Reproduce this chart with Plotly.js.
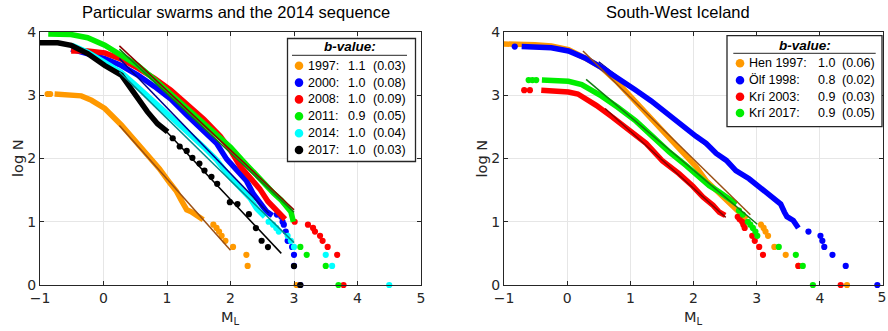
<!DOCTYPE html>
<html>
<head>
<meta charset="utf-8">
<script src="https://cdn.plot.ly/plotly-3.0.1.min.js"></script>
<style>
  html, body { margin: 0; padding: 0; background: #ffffff; overflow: hidden; }
  #wrap { position: relative; width: 888px; height: 331px; }
  #chart { width: 888px; height: 331px; }
  /* end label of the right magnitude axis, which sits on the page edge */
  #edge-tick { position: absolute; left: 876px; top: 288px; width: 12px; text-align: center; z-index: 10;
               font: 14px 'DejaVu Sans', sans-serif; color: #262626; line-height: 18px; }
</style>
</head>
<body>
<div id="wrap">
<div id="chart"></div>
<div id="edge-tick"></div>
</div>
<script>
// ---------- Left panel: particular swarms and the 2014 sequence ----------
// Frequency–magnitude distributions (log10 of cumulative count vs. local magnitude).
// "curve" = densely sampled part, "dots" = isolated points, "fit" = Gutenberg–Richter fit segment.
const s1997CurveM = [-0.77, -0.51, -0.35, -0.19, 0.02, 0.28, 0.54, 0.77, 0.88, 1.04, 1.15, 1.23, 1.31, 1.38, 1.46, 1.57];
const s1997CurveN = [3.02, 3.01, 2.99, 2.92, 2.79, 2.53, 2.24, 1.98, 1.84, 1.62, 1.48, 1.33, 1.19, 1.16, 1.10, 1.03];
const s1997DotsM = [-0.88, -0.84, 1.73, 1.78, 1.82, 1.86, 1.92, 2.04, 2.25, 2.27, 3.04];
const s1997DotsN = [3.02, 3.02, 0.954, 0.903, 0.845, 0.778, 0.699, 0.602, 0.477, 0.301, 0];
const s1997FitM = [0.25, 2.0];
const s1997FitN = [2.52, 0.55];

const s2000CurveM = [-0.51, -0.25, 0.02, 0.28, 0.54, 0.80, 1.06, 1.32, 1.58, 1.78, 1.94, 2.09, 2.25, 2.36, 2.46, 2.57, 2.66];
const s2000CurveN = [3.73, 3.66, 3.58, 3.47, 3.32, 3.14, 2.94, 2.68, 2.43, 2.24, 1.99, 1.81, 1.65, 1.44, 1.29, 1.16, 1.10];
const s2000DotsM = [2.73, 2.80, 2.82, 2.84, 2.87, 2.90, 2.97, 3.0, 3.0, 3.10];
const s2000DotsN = [1.114, 1.079, 1.0, 0.954, 0.845, 0.699, 0.602, 0.477, 0.301, 0];
const s2000FitM = [0.25, 2.6];
const s2000FitN = [3.58, 1.14];

const s2008CurveM = [-0.51, -0.25, 0.02, 0.28, 0.54, 0.80, 1.06, 1.32, 1.58, 1.84, 2.0, 2.15, 2.31, 2.46, 2.59, 2.73, 2.83, 2.86];
const s2008CurveN = [3.70, 3.70, 3.67, 3.57, 3.43, 3.27, 3.08, 2.86, 2.62, 2.35, 2.13, 1.88, 1.71, 1.52, 1.32, 1.18, 1.08, 1.04];
const s2008DotsM = [3.01, 3.22, 3.30, 3.33, 3.41, 3.45, 3.53, 3.68, 3.78];
const s2008DotsN = [1.0, 0.954, 0.903, 0.845, 0.778, 0.699, 0.602, 0.477, 0];
const s2008FitM = [0.25, 3.0];
const s2008FitN = [3.78, 1.19];

const s2011CurveM = [-0.87, -0.51, -0.25, 0.02, 0.28, 0.54, 0.80, 1.06, 1.32, 1.58, 1.80, 2.0, 2.18, 2.36, 2.52, 2.68, 2.80, 2.89, 2.95, 2.99];
const s2011CurveN = [3.97, 3.96, 3.91, 3.79, 3.63, 3.47, 3.25, 3.02, 2.79, 2.57, 2.37, 2.18, 1.98, 1.78, 1.60, 1.45, 1.34, 1.24, 1.16, 1.0];
const s2011DotsM = [3.10, 3.20, 3.50, 3.70];
const s2011DotsN = [0.602, 0.477, 0.301, 0];
const s2011FitM = [0.25, 3.0];
const s2011FitN = [3.73, 1.15];

const s2014CurveM = [-0.50, -0.25, 0.02, 0.28, 0.54, 0.80, 1.06, 1.32, 1.58, 1.78, 1.99, 2.15, 2.31, 2.41, 2.54];
const s2014CurveN = [3.79, 3.68, 3.52, 3.36, 3.13, 2.90, 2.66, 2.42, 2.18, 1.98, 1.71, 1.55, 1.37, 1.21, 1.08];
const s2014DotsM = [2.60, 2.67, 2.72, 2.76, 2.90, 2.95, 3.0, 3.50, 3.60, 4.50];
const s2014DotsN = [1.0, 0.954, 0.903, 0.845, 0.778, 0.699, 0.602, 0.477, 0.301, 0];
const s2014FitM = [0.25, 3.0];
const s2014FitN = [3.37, 0.67];

const s2017CurveM = [-1.0, -0.72, -0.51, -0.25, 0.02, 0.28, 0.43, 0.54, 0.69, 0.85, 1.01];
const s2017CurveN = [3.83, 3.83, 3.79, 3.66, 3.47, 3.32, 3.11, 2.95, 2.74, 2.55, 2.42];
const s2017DotsM = [1.09, 1.20, 1.31, 1.40, 1.51, 1.59, 1.70, 1.79, 1.99, 2.11, 2.29, 2.40, 2.49, 2.59, 3.0, 3.1];
const s2017DotsN = [2.32, 2.19, 2.12, 2.01, 1.92, 1.81, 1.71, 1.60, 1.31, 1.28, 1.12, 0.90, 0.70, 0.60, 0.30, 0];
const s2017FitM = [0.95, 2.80];
const s2017FitN = [2.47, 0.50];

const leftLabels = ['1997:', '2000:', '2008:', '2011:', '2014:', '2017:'];
const leftB = ['1.1', '1.0', '1.0', '0.9', '1.0', '1.0'];
const leftBErr = ['(0.03)', '(0.08)', '(0.09)', '(0.05)', '(0.04)', '(0.03)'];

// ---------- Right panel: South-West Iceland ----------
const henCurveM = [-1.01, -0.77, -0.51, -0.25, 0.02, 0.28, 0.54, 0.80, 1.07, 1.33, 1.59, 1.85, 2.04, 2.20, 2.36, 2.52, 2.65, 2.73, 2.84];
const henCurveN = [3.81, 3.81, 3.80, 3.78, 3.72, 3.59, 3.44, 3.20, 2.91, 2.62, 2.33, 2.07, 1.87, 1.65, 1.49, 1.34, 1.23, 1.12, 1.04];
const henDotsM = [3.07, 3.11, 3.14, 3.18, 3.28, 3.46, 3.66, 4.43];
const henDotsN = [0.954, 0.903, 0.845, 0.778, 0.602, 0.477, 0.301, 0];
const henFitM = [0.25, 2.90];
const henFitN = [3.70, 1.11];

const olfCurveM = [-0.72, -0.51, -0.25, 0.02, 0.28, 0.54, 0.80, 1.07, 1.33, 1.59, 1.85, 2.04, 2.20, 2.36, 2.52, 2.67, 2.88, 3.09, 3.25, 3.38, 3.44, 3.48, 3.58, 3.62, 3.66];
const olfCurveN = [3.77, 3.77, 3.75, 3.70, 3.59, 3.44, 3.28, 3.09, 2.91, 2.70, 2.49, 2.35, 2.24, 2.08, 1.97, 1.81, 1.68, 1.52, 1.39, 1.28, 1.15, 1.08, 1.02, 0.95, 0.90];
const olfDotsM = [-0.83, 3.82, 4.01, 4.04, 4.07, 4.20, 4.41, 4.91];
const olfDotsN = [3.77, 0.845, 0.778, 0.699, 0.602, 0.477, 0.301, 0];
const olfFitM = [0.5, 3.4];
const olfFitN = [3.53, 1.27];

const kri03CurveM = [-0.41, -0.25, 0.02, 0.17, 0.28, 0.46, 0.72, 0.98, 1.25, 1.51, 1.77, 1.99, 2.15, 2.31, 2.41, 2.50];
const kri03CurveN = [3.08, 3.07, 3.05, 3.02, 2.96, 2.84, 2.65, 2.44, 2.24, 1.96, 1.76, 1.56, 1.39, 1.26, 1.15, 1.10];
const kri03DotsM = [-0.68, -0.59, 2.70, 2.73, 2.77, 2.79, 2.81, 2.93, 2.97, 3.04, 3.10, 3.66, 4.33];
const kri03DotsN = [3.08, 3.08, 1.079, 1.041, 1.0, 0.954, 0.903, 0.778, 0.699, 0.602, 0.477, 0.301, 0];
const kri03FitM = [0.60, 2.51];
const kri03FitN = [2.79, 1.07];

const kri17CurveM = [-0.40, 0.02, 0.23, 0.38, 0.54, 0.80, 1.09, 1.35, 1.62, 1.88, 2.10, 2.25, 2.41, 2.57, 2.68];
const kri17CurveN = [3.24, 3.22, 3.17, 3.09, 2.99, 2.81, 2.59, 2.35, 2.10, 1.89, 1.71, 1.57, 1.47, 1.36, 1.28];
const kri17DotsM = [-0.61, -0.55, -0.49, 2.72, 2.78, 2.86, 2.90, 2.94, 2.98, 3.01, 3.35, 3.62, 3.73, 3.89];
const kri17DotsN = [3.24, 3.24, 3.24, 1.176, 1.114, 1.0, 0.954, 0.903, 0.845, 0.778, 0.602, 0.477, 0.301, 0];
const kri17FitM = [0.30, 3.01];
const kri17FitN = [3.25, 0.96];

const rightLabels = ['Hen 1997:', 'Ölf 1998:', 'Krí 2003:', 'Krí 2017:'];
const rightB = ['1.0', '0.8', '0.9', '0.9'];
const rightBErr = ['(0.06)', '(0.02)', '(0.03)', '(0.05)'];

// magnitude ticks shared by both panels
const magTicks = [-1, 0, 1, 2, 3, 4, 5];

// the right panel's last magnitude label would be dropped at the page edge, so it is set as page text
document.getElementById('edge-tick').textContent = String(magTicks[magTicks.length - 1]);

// ---------- styling ----------
const ORANGE = '#FF9900', BLUE = '#0000FF', RED = '#FF0000', GREEN = '#00EE00', CYAN = '#00FFFF', BLACK = '#000000';
const leftColors = [ORANGE, BLUE, RED, GREEN, CYAN, BLACK];
const leftFitColors = ['#9A4F14', '#00008B', '#8B0000', '#127A12', '#008B8B', '#000000'];
const rightColors = [ORANGE, BLUE, RED, GREEN];
const rightFitColors = ['#9A4F14', '#00008B', '#8B0000', '#127A12'];

const CURVE_W = 5.5, DOT_SIZE = 6.2, FIT_W = 1.5;
const W = 888, H = 331;
const px = v => v / W;
const py = v => 1 - v / H;

function curveTrace(m, n, color, xa, ya) {
  return { x: m, y: n, xaxis: xa, yaxis: ya, type: 'scatter', mode: 'lines',
           line: { color: color, width: CURVE_W }, cliponaxis: false, hoverinfo: 'skip', showlegend: false };
}
function dotsTrace(m, n, color, xa, ya) {
  return { x: m, y: n, xaxis: xa, yaxis: ya, type: 'scatter', mode: 'markers',
           marker: { color: color, size: DOT_SIZE, line: { width: 0 } }, cliponaxis: false, hoverinfo: 'skip', showlegend: false };
}
function fitTrace(m, n, color, xa, ya) {
  return { x: m, y: n, xaxis: xa, yaxis: ya, type: 'scatter', mode: 'lines',
           line: { color: color, width: FIT_W }, hoverinfo: 'skip', showlegend: false };
}

const leftSeries = [
  [s1997CurveM, s1997CurveN, s1997DotsM, s1997DotsN, s1997FitM, s1997FitN],
  [s2000CurveM, s2000CurveN, s2000DotsM, s2000DotsN, s2000FitM, s2000FitN],
  [s2008CurveM, s2008CurveN, s2008DotsM, s2008DotsN, s2008FitM, s2008FitN],
  [s2011CurveM, s2011CurveN, s2011DotsM, s2011DotsN, s2011FitM, s2011FitN],
  [s2014CurveM, s2014CurveN, s2014DotsM, s2014DotsN, s2014FitM, s2014FitN],
  [s2017CurveM, s2017CurveN, s2017DotsM, s2017DotsN, s2017FitM, s2017FitN]
];
const rightSeries = [
  [henCurveM, henCurveN, henDotsM, henDotsN, henFitM, henFitN],
  [olfCurveM, olfCurveN, olfDotsM, olfDotsN, olfFitM, olfFitN],
  [kri03CurveM, kri03CurveN, kri03DotsM, kri03DotsN, kri03FitM, kri03FitN],
  [kri17CurveM, kri17CurveN, kri17DotsM, kri17DotsN, kri17FitM, kri17FitN]
];

const traces = [];
// the 0.8 fit sits underneath its own curve
traces.push(fitTrace(olfFitM, olfFitN, rightFitColors[1], 'x2', 'y2'));
leftSeries.forEach((s, i) => {
  traces.push(curveTrace(s[0], s[1], leftColors[i], 'x', 'y'));
  traces.push(dotsTrace(s[2], s[3], leftColors[i], 'x', 'y'));
});
leftSeries.forEach((s, i) => traces.push(fitTrace(s[4], s[5], leftFitColors[i], 'x', 'y')));
rightSeries.forEach((s, i) => {
  traces.push(curveTrace(s[0], s[1], rightColors[i], 'x2', 'y2'));
  traces.push(dotsTrace(s[2], s[3], rightColors[i], 'x2', 'y2'));
});
rightSeries.forEach((s, i) => { if (i !== 1) traces.push(fitTrace(s[4], s[5], rightFitColors[i], 'x2', 'y2')); });

// ---------- axes ----------
const TICK_FONT = { family: 'DejaVu Sans', size: 14, color: '#262626' };
function xAxis(domain, vals) {
  return { domain: domain, range: [-1, 5], tickmode: 'array', tickvals: vals, showgrid: true, gridcolor: '#E6E6E6', gridwidth: 1,
           zeroline: false, showline: true, linecolor: '#262626', linewidth: 1, mirror: 'ticks',
           ticks: 'inside', ticklen: 4, tickcolor: '#262626', tickfont: TICK_FONT,
           automargin: false, fixedrange: true };
}
function yAxis(anchor) {
  return { domain: [py(285), py(32)], range: [0, 4], dtick: 1, tick0: 0, anchor: anchor, showgrid: true, gridcolor: '#E6E6E6', gridwidth: 1,
           zeroline: false, showline: true, linecolor: '#262626', linewidth: 1, mirror: 'ticks',
           ticks: 'inside', ticklen: 4, tickcolor: '#262626', tickfont: TICK_FONT,
           automargin: false, fixedrange: true };
}

// ---------- legend boxes (drawn as shapes + annotations) ----------
const shapes = [];
const annotations = [];
const LEG_FONT = { family: 'Liberation Sans, Arial, sans-serif', size: 12.5, color: '#000000' };

function legendBox(box, titleX, titleY, rule, rows, dotX, labelX, valX, errX, labels, vals, errs, colors) {
  shapes.push({ type: 'rect', xref: 'paper', yref: 'paper', x0: px(box[0]), x1: px(box[1]), y0: py(box[3]), y1: py(box[2]),
                line: { color: '#262626', width: 1.3 }, fillcolor: '#FFFFFF', layer: 'above' });
  shapes.push({ type: 'line', xref: 'paper', yref: 'paper', x0: px(rule[0]), x1: px(rule[1]), y0: py(rule[2]), y1: py(rule[2]),
                line: { color: '#262626', width: 1 }, layer: 'above' });
  annotations.push({ xref: 'paper', yref: 'paper', x: px(titleX), y: py(titleY), xanchor: 'center', yanchor: 'middle',
                     text: '<b><i>b-value:</i></b>', showarrow: false,
                     font: { family: 'Liberation Sans, Arial, sans-serif', size: 13.5, color: '#000000' } });
  rows.forEach((ry, i) => {
    shapes.push({ type: 'circle', xref: 'paper', yref: 'paper', xsizemode: 'pixel', ysizemode: 'pixel',
                  xanchor: px(dotX), yanchor: py(ry), x0: -4.3, x1: 4.3, y0: -4.3, y1: 4.3,
                  fillcolor: colors[i], line: { width: 0 }, layer: 'above' });
    [[labelX, labels[i]], [valX, vals[i]], [errX, errs[i]]].forEach(([x, t]) => {
      annotations.push({ xref: 'paper', yref: 'paper', x: px(x), y: py(ry), xanchor: 'left', yanchor: 'middle',
                         text: t, showarrow: false, font: LEG_FONT, xshift: -2 });
    });
  });
}

legendBox([287.5, 415.5, 38.5, 161.5], 350, 46.5, [292, 407, 55.3],
          [65.8, 82.6, 99.4, 116.3, 133.2, 150.0], 299, 308, 348, 372.5,
          leftLabels, leftB, leftBErr, leftColors);
legendBox([727, 882, 35.7, 126.7], 804.5, 45.5, [733.3, 875.7, 53.3],
          [63.3, 80.2, 96.8, 113.0], 740, 749, 817.5, 841.5,
          rightLabels, rightB, rightBErr, rightColors);

// ---------- titles and axis labels ----------
const TITLE_FONT = { family: 'Liberation Sans, Arial, sans-serif', size: 16.5, color: '#000000' };
annotations.push({ xref: 'paper', yref: 'paper', x: px(236), y: py(12.5), xanchor: 'center', yanchor: 'middle',
                   text: 'Particular swarms and the 2014 sequence', showarrow: false, font: TITLE_FONT });
annotations.push({ xref: 'paper', yref: 'paper', x: px(677.5), y: py(12.5), xanchor: 'center', yanchor: 'middle',
                   text: 'South-West Iceland', showarrow: false, font: TITLE_FONT });
const AX_FONT = { family: 'DejaVu Sans', size: 14.5, color: '#262626' };
[[230.5, 17.5], [693.5, 481]].forEach(([cx, lx]) => {
  annotations.push({ xref: 'paper', yref: 'paper', x: px(cx), y: py(318), xanchor: 'center', yanchor: 'middle',
                     text: 'M<sub>L</sub>', showarrow: false, font: AX_FONT });
  annotations.push({ xref: 'paper', yref: 'paper', x: px(lx), y: py(158.5), xanchor: 'center', yanchor: 'middle',
                     text: 'log N', textangle: -90, showarrow: false, font: AX_FONT });
});

const layout = {
  width: W, height: H,
  margin: { l: 0, r: 0, t: 0, b: 0, pad: 0 },
  paper_bgcolor: '#FFFFFF', plot_bgcolor: '#FFFFFF',
  showlegend: false,
  xaxis: Object.assign(xAxis([px(40), px(421)], magTicks), { anchor: 'y' }),
  yaxis: yAxis('x'),
  xaxis2: Object.assign(xAxis([px(504), px(883)], magTicks.slice(0, -1)), { anchor: 'y2' }),
  yaxis2: yAxis('x2'),
  shapes: shapes,
  annotations: annotations
};

Plotly.newPlot('chart', traces, layout, { staticPlot: true, displayModeBar: false });
</script>
</body>
</html>
